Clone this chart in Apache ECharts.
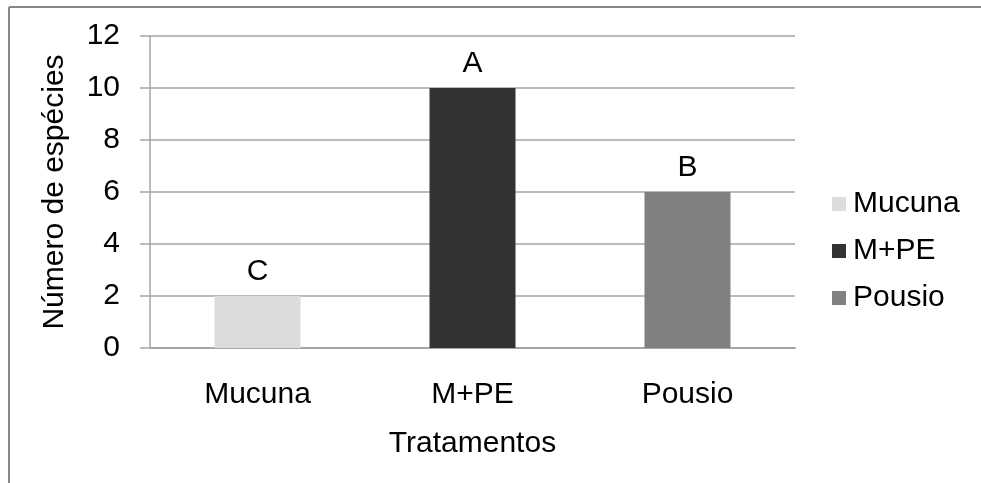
<!DOCTYPE html>
<html>
<head>
<meta charset="utf-8">
<script src="https://cdn.jsdelivr.net/npm/echarts@6/dist/echarts.min.js"></script>
<style>
html,body{margin:0;padding:0;background:#fff;}
#chart{width:981px;height:483px;}
</style>
</head>
<body>
<div id="chart"></div>
<script>
var categories = ['Mucuna', 'M+PE', 'Pousio'];
var values = [2, 10, 6];
var letters = ['C', 'A', 'B'];
var colors = ['#dcdcdc', '#333333', '#808080'];
var yTicks = [0, 2, 4, 6, 8, 10, 12];

var FONT = '"Liberation Sans", Arial, sans-serif';

var series = categories.map(function (name, i) {
  var data = categories.map(function (c, j) { return j === i ? values[i] : '-'; });
  return {
    name: name,
    type: 'bar',
    stack: 'all',
    barWidth: '40%',
    data: data,
    itemStyle: { color: colors[i] },
    label: {
      show: true,
      position: 'top',
      distance: 9,
      formatter: function () { return letters[i]; },
      color: '#000',
      fontFamily: FONT,
      fontSize: 30
    }
  };
});

var chart = echarts.init(document.getElementById('chart'), null, { renderer: 'canvas' });
chart.setOption({
  animation: false,
  backgroundColor: '#fff',
  graphic: [
    { type: 'line', shape: { x1: 9, y1: 7, x2: 990, y2: 7 }, style: { stroke: '#878787', lineWidth: 2 }, silent: true },
    { type: 'line', shape: { x1: 9, y1: 7, x2: 9, y2: 490 }, style: { stroke: '#878787', lineWidth: 2 }, silent: true }
  ],
  grid: { left: 150, right: 186, top: 36, bottom: 135, containLabel: false },
  legend: {
    orient: 'vertical',
    left: 827,
    top: 184,
    itemWidth: 14,
    itemHeight: 14,
    itemGap: 17,
    icon: 'rect',
    textStyle: { fontFamily: FONT, fontSize: 30, color: '#000', padding: [0, 0, 0, 2] },
    data: categories
  },
  xAxis: {
    type: 'category',
    data: categories,
    name: 'Tratamentos',
    nameLocation: 'middle',
    nameGap: 81,
    nameTextStyle: { fontFamily: FONT, fontSize: 30, color: '#000' },
    axisLine: { show: true, lineStyle: { color: '#a6a6a6', width: 2 } },
    axisTick: { show: false },
    axisLabel: { fontFamily: FONT, fontSize: 30, color: '#000', margin: 32 }
  },
  yAxis: {
    type: 'value',
    min: 0, max: 12, interval: 2,
    name: 'Número de espécies',
    nameLocation: 'middle',
    nameGap: 80,
    nameTextStyle: { fontFamily: FONT, fontSize: 30, color: '#000' },
    axisLine: { show: true, lineStyle: { color: '#a6a6a6', width: 1.5 } },
    axisTick: { show: true, length: 10, lineStyle: { color: '#a6a6a6', width: 1.5 } },
    axisLabel: {
      fontFamily: FONT, fontSize: 30, color: '#000', margin: 30,
      formatter: function (v) { return yTicks.indexOf(v) >= 0 ? String(v) : ''; }
    },
    splitLine: { show: true, lineStyle: { color: '#a6a6a6', width: 1.5 } }
  },
  series: series
});
</script>
</body>
</html>
